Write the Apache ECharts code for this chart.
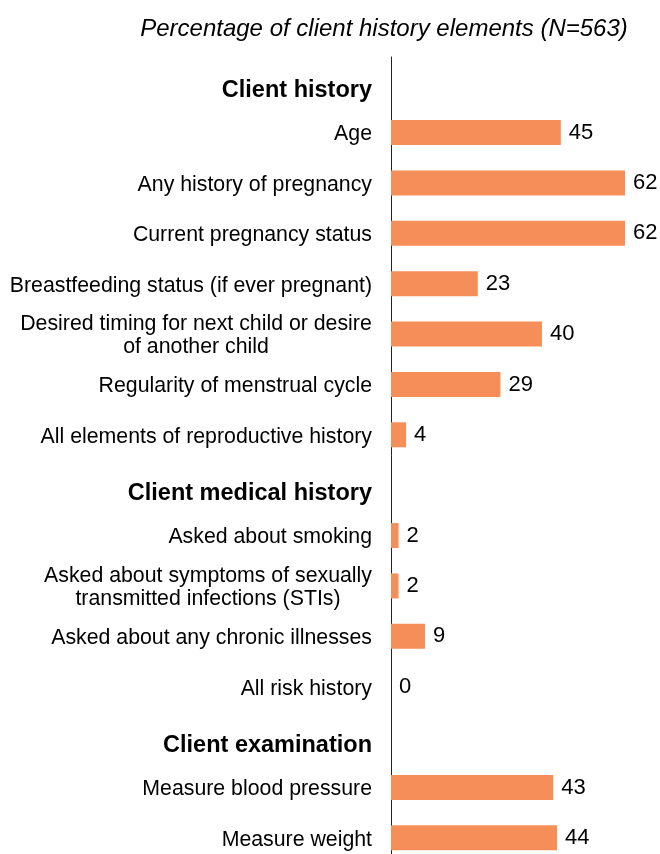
<!DOCTYPE html>
<html>
<head>
<meta charset="utf-8">
<script src="https://cdn.jsdelivr.net/npm/echarts@6/dist/echarts.min.js"></script>
<style>
  html, body { margin: 0; padding: 0; background: #fff; }
  #main { width: 660px; height: 854px; }
</style>
</head>
<body>
<div id="main"></div>
<script>
var categories = [
    'Client history',
    'Age',
    'Any history of pregnancy',
    'Current pregnancy status',
    'Breastfeeding status (if ever pregnant)',
    'Desired timing for next child or desire\nof another child',
    'Regularity of menstrual cycle',
    'All elements of reproductive history',
    'Client medical history',
    'Asked about smoking',
    'Asked about symptoms of sexually\ntransmitted infections (STIs)',
    'Asked about any chronic illnesses',
    'All risk history',
    'Client examination',
    'Measure blood pressure',
    'Measure weight'
];
var values = [null, 45, 62, 62, 23, 40, 29, 4, null, 2, 2, 9, 0, null, 43, 44];
var headers = ['Client history', 'Client medical history', 'Client examination'];

var fontFamily = '"Liberation Sans", Arial, sans-serif';
var labelSize = 21.3;

// measure widths so two-line labels can be centred line by line
var ctx = document.createElement('canvas').getContext('2d');
ctx.font = labelSize + 'px ' + fontFamily;
function textWidth(s) {
    return Math.ceil(ctx.measureText(s).width);
}

var rich = {
    n: {
        fontFamily: fontFamily,
        fontSize: labelSize,
        color: '#000',
        padding: [4, 0, 0, 0]
    },
    h: {
        fontFamily: fontFamily,
        fontSize: 23.5,
        fontWeight: 'bold',
        color: '#000',
        padding: [17, 0, 0, 0]
    }
};
// one rich style per two-line label, as wide as its longest line
var multiKey = {};
categories.forEach(function (name, i) {
    var lines = name.split('\n');
    if (lines.length > 1) {
        var key = 'm' + i;
        multiKey[name] = key;
        rich[key] = {
            fontFamily: fontFamily,
            fontSize: labelSize,
            color: '#000',
            lineHeight: 23.5,
            align: 'center',
            width: Math.max.apply(null, lines.map(textWidth)),
            padding: [3, 0, 0, 0]
        };
    }
});

var chartDom = document.getElementById('main');
var myChart = echarts.init(chartDom);
var option;

option = {
    animation: false,
    title: {
        text: 'Percentage of client history elements (N=563)',
        left: 379,
        top: 12,
        textAlign: 'center',
        textStyle: {
            fontFamily: fontFamily,
            fontStyle: 'italic',
            fontWeight: 'normal',
            fontSize: 24,
            color: '#000'
        }
    },
    grid: {
        left: 391,
        top: 57,
        width: 234,
        height: 806,
        outerBoundsMode: 'none'
    },
    xAxis: {
        type: 'value',
        min: 0,
        max: 62,
        show: false
    },
    yAxis: {
        type: 'category',
        inverse: true,
        data: categories,
        axisTick: { show: false },
        axisLine: {
            show: true,
            lineStyle: { color: '#222', width: 1 }
        },
        axisLabel: {
            margin: 19,
            color: '#000',
            fontFamily: fontFamily,
            fontSize: labelSize,
            formatter: function (name) {
                if (headers.indexOf(name) >= 0) {
                    return '{h|' + name + '}';
                }
                if (multiKey[name]) {
                    var k = multiKey[name];
                    return name.split('\n').map(function (l) {
                        return '{' + k + '|' + l + '}';
                    }).join('\n');
                }
                return '{n|' + name + '}';
            },
            rich: rich
        }
    },
    series: [
        {
            type: 'bar',
            data: values,
            barWidth: 25,
            itemStyle: { color: '#F68E5A' },
            label: {
                show: true,
                position: 'right',
                distance: 8,
                color: '#000',
                fontFamily: fontFamily,
                fontSize: 22,
                padding: [3, 0, 0, 0]
            }
        }
    ]
};

option && myChart.setOption(option);
</script>
</body>
</html>
